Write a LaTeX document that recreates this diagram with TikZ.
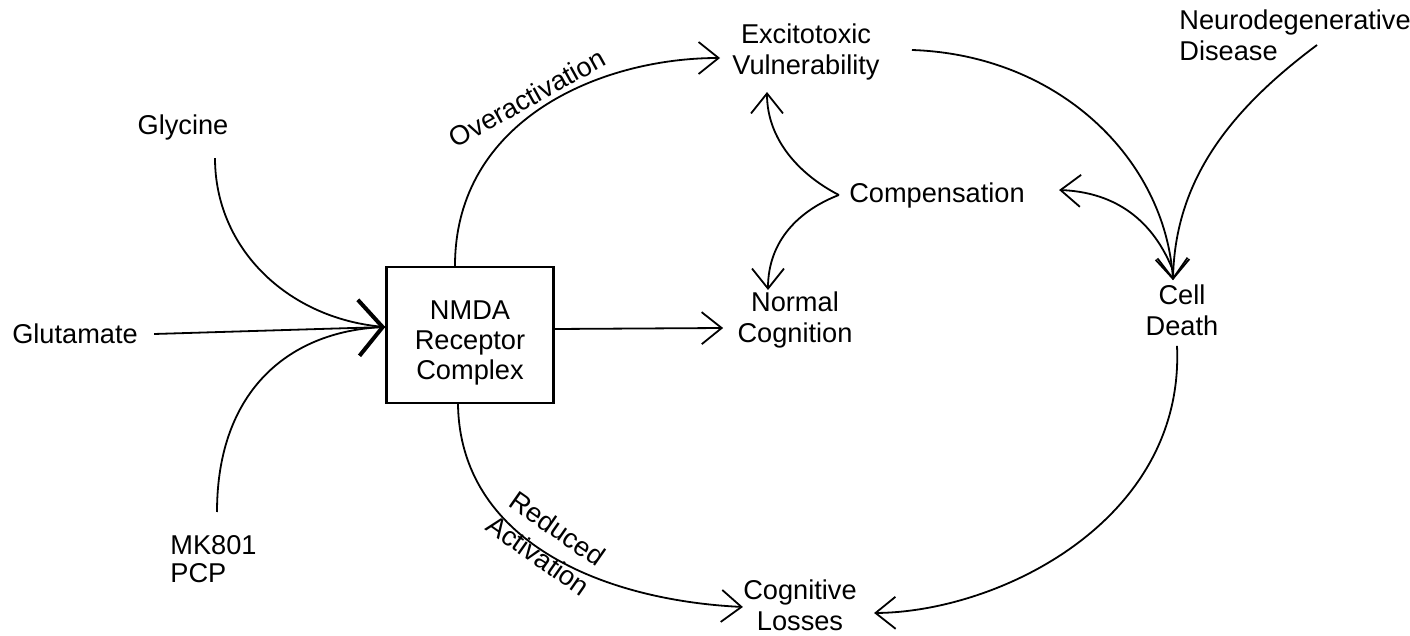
\documentclass[tikz,border=0pt]{standalone}
\usepackage{fontspec}
\setmainfont{Liberation Sans}
\usetikzlibrary{arrows.meta}
\begin{document}
\begin{tikzpicture}[x=0.5pt,y=-0.5pt,
  lbl/.style={font=\fontsize{13.6}{15.5}\selectfont, align=center, inner sep=2pt},
  conn/.style={line width=0.9pt, black},
  arr/.style={conn, -{Straight Barb[length=10pt,width=16pt,line width=0.9pt]}},
  bigarr/.style={conn, -{Straight Barb[length=12pt,width=28pt,line width=2pt]}},
  boxstyle/.style={draw, line width=1.2pt, minimum width=83.5pt, minimum height=68pt, inner sep=0pt}
 ]
\useasboundingbox (0,0) rectangle (1410,636);

% nodes
\node[lbl] (gly) at (183,127) {Glycine};
\node[lbl] (glu) at (75,334) {Glutamate};
\node[lbl, align=left, anchor=west, font=\fontsize{13.6}{14}\selectfont] (mk) at (166,559) {MK801\\PCP};
\node[boxstyle] (nmda) at (470,335) {};
\node[lbl, font=\fontsize{13.6}{15}\selectfont] (nmdat) at (470,343) {NMDA\\Receptor\\Complex};
\node[lbl] (norm) at (795,320) {Normal\\Cognition};
\node[lbl] (exc) at (806,52) {Excitotoxic\\Vulnerability};
\node[lbl] (comp) at (937,195) {Compensation};
\node[lbl] (cell) at (1182,310) {Cell\\Death};
\node[lbl, align=left, anchor=west] (neuro) at (1175,35) {Neurodegenerative\\Disease};
\node[lbl] (cog) at (800,605) {Cognitive\\Losses};
\node[lbl, rotate=29] (over) at (527,98) {Overactivation};
\node[lbl, rotate=-35, font=\fontsize{13.6}{16.5}\selectfont] (red) at (548,542) {Reduced\\Activation};

% coordinates
\coordinate (tip) at ([yshift=4pt]nmda.west);
\coordinate (glyS) at ([xshift=16pt,yshift=-7pt]gly.south);
\coordinate (mkN) at (217,512);
\coordinate (nmdaT) at ([xshift=-7.5pt]nmda.north);
\coordinate (nmdaB) at ([xshift=-6pt]nmda.south);
\coordinate (cj) at ([xshift=-3pt]comp.west);
\coordinate (excW) at ([xshift=-4pt,yshift=-3pt]exc.west);
\coordinate (excS) at (767,92);
\coordinate (excE) at ([xshift=14pt,yshift=1pt]exc.east);
\coordinate (normW) at ([xshift=-5pt,yshift=-4pt]norm.west);
\coordinate (normN) at (768,290);
\coordinate (cogW) at ([xshift=2pt,yshift=-1pt]cog.west);
\coordinate (cogE) at ([xshift=6.5pt,yshift=-4pt]cog.east);
\coordinate (cellN) at ([xshift=-4.5pt]cell.north);
\coordinate (cellS) at ([xshift=-2.5pt,yshift=-3pt]cell.south);
\coordinate (cellA) at ([xshift=-5pt,yshift=6pt]cell.north);
\coordinate (neuroS) at ([xshift=71pt,yshift=-5pt]neuro.west);
\coordinate (compE) at ([xshift=15pt,yshift=2.5pt]comp.east);

% inputs
\draw[conn] (glyS) .. controls (215,250) and (290,320) .. (tip);
\draw[conn] (mkN) .. controls (217,390) and (290,330) .. (tip);
\draw[bigarr] ([xshift=6pt]glu.east) -- (tip);

% outputs of the receptor
\draw[arr] (nmdaT) .. controls (455,120) and (600,58) .. (excW);
\draw[arr] ([yshift=3pt]nmda.east) -- (normW);
\draw[arr] (nmdaB) .. controls (460,540) and (600,600) .. (cogW);

% compensation
\draw[arr] (cj) .. controls (800,175) and (767,140) .. (excS);
\draw[arr] (cj) .. controls (800,210) and (768,240) .. (normN);

% cell death
\draw[arr] (excE) .. controls (1060,55) and (1165,160) .. (cellN);
\draw[arr] (neuroS) .. controls (1230,110) and (1175,180) .. (cellN);
\draw[arr] (cellA) .. controls (1150,215) and (1110,192) .. (compE);
\draw[arr] (cellS) .. controls (1185,520) and (1000,612) .. (cogE);
\end{tikzpicture}
\end{document}
